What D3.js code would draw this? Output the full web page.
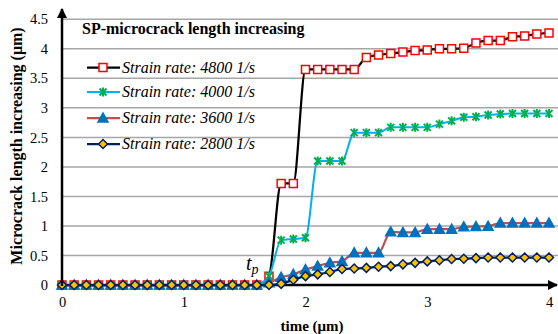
<!DOCTYPE html>
<html>
<head>
<meta charset="utf-8">
<script src="https://cdn.jsdelivr.net/npm/d3@7"></script>
<style>
  html, body { margin: 0; padding: 0; background: #fff; }
  svg { display: block; }
</style>
</head>
<body>
<svg id="chart" width="558" height="334"></svg>
<script>
// ---- Data ----
const timeValues = d3.range(0, 41).map(i => +(i * 0.1).toFixed(1)); // 0.0 .. 4.0
const zeros17 = new Array(17).fill(0);
const rate4800 = zeros17.concat([0.15, 1.72, 1.72, 3.65, 3.65, 3.65, 3.65, 3.65, 3.855, 3.895, 3.92, 3.945, 3.97, 3.98, 4.0, 4.0, 4.01, 4.10, 4.14, 4.14, 4.205, 4.217, 4.25, 4.27]);
const rate4000 = zeros17.concat([0.15, 0.76, 0.78, 0.80, 2.10, 2.10, 2.10, 2.58, 2.58, 2.58, 2.67, 2.67, 2.67, 2.67, 2.725, 2.78, 2.84, 2.85, 2.88, 2.895, 2.905, 2.905, 2.905, 2.905]);
const rate3600 = zeros17.concat([0.04, 0.13, 0.18, 0.26, 0.32, 0.375, 0.40, 0.545, 0.545, 0.545, 0.90, 0.89, 0.89, 0.945, 0.945, 0.945, 0.985, 0.99, 0.995, 1.05, 1.05, 1.05, 1.05, 1.05]);
const rate2800 = zeros17.concat([0.0, 0.02, 0.09, 0.15, 0.18, 0.22, 0.27, 0.28, 0.29, 0.31, 0.32, 0.35, 0.375, 0.40, 0.42, 0.44, 0.445, 0.455, 0.465, 0.465, 0.465, 0.465, 0.465, 0.465]);
const seriesNames = ["Strain rate: 4800 1/s", "Strain rate: 4000 1/s", "Strain rate: 3600 1/s", "Strain rate: 2800 1/s"];
const yTicks = [0, 0.5, 1, 1.5, 2, 2.5, 3, 3.5, 4, 4.5];
const xTicks = [0, 1, 2, 3, 4];
const chartTitle = "SP-microcrack length increasing";
const xTitle = "time (\u03bcm)";
const yTitle = "Microcrack length increasing (\u03bcm)";
const tpX = 1.7;

// ---- Styles ----
const styles = [
  { line: "#000000", marker: "square", fill: "#ffffff", stroke: "#ff0000", width: 2.25 },
  { line: "#00b0f0", marker: "star", fill: "none", stroke: "#00b050", width: 2 },
  { line: "#c0504d", marker: "triangle", fill: "#0070c0", stroke: "#0070c0", width: 2.25 },
  { line: "#002060", marker: "diamond", fill: "#ffc000", stroke: "#002060", width: 2.25 }
];
const allSeries = [rate4800, rate4000, rate3600, rate2800];

const svg = d3.select("#chart");
const x = d3.scaleLinear().domain([0, 4]).range([62, 549]);
const y = d3.scaleLinear().domain([0, 4.5]).range([285, 19.3]);
const serif = "'Liberation Serif', 'Times New Roman', serif";

// gridlines
svg.append("g").selectAll("line").data(yTicks.filter(d => d > 0)).join("line")
  .attr("x1", x(0)).attr("x2", 558)
  .attr("y1", d => y(d)).attr("y2", d => y(d))
  .attr("stroke", "#a6a6a6").attr("stroke-width", 1.5);

// axes with tick labels only
const yAxis = svg.append("g").attr("transform", `translate(${x(0)},0)`)
  .call(d3.axisLeft(y).tickValues(yTicks).tickSize(0).tickPadding(14).tickFormat(d3.format("")));
yAxis.select(".domain").remove();
yAxis.attr("font-family", serif).attr("font-size", 14.5);
yAxis.selectAll("text").attr("fill", "#000");

const xAxis = svg.append("g").attr("transform", `translate(0,${y(0)})`)
  .call(d3.axisBottom(x).tickValues(xTicks).tickSize(0).tickPadding(12).tickFormat(d3.format("d")));
xAxis.select(".domain").remove();
xAxis.attr("font-family", serif).attr("font-size", 14.5);
xAxis.selectAll("text").attr("fill", "#000");

// arrow markers
const defs = svg.append("defs");
defs.append("marker").attr("id", "arrow").attr("viewBox", "0 0 10 10")
  .attr("refX", 9).attr("refY", 5).attr("markerWidth", 4).attr("markerHeight", 4)
  .attr("markerUnits", "strokeWidth").attr("orient", "auto")
  .append("path").attr("d", "M0,0 L10,5 L0,10 z").attr("fill", "#000");

// x axis line
svg.append("line").attr("x1", x(0)).attr("x2", 557).attr("y1", y(0)).attr("y2", y(0))
  .attr("stroke", "#000").attr("stroke-width", 2.5).attr("marker-end", "url(#arrow)");

// series
const lineGen = d3.line().x((d, i) => x(timeValues[i])).y(d => y(d)).curve(d3.curveMonotoneX);

function markerPath(type) {
  switch (type) {
    case "square": return "M-4,-4 H4 V4 H-4 Z";
    case "star": return "M-3.5,-3.5 L3.5,3.5 M3.5,-3.5 L-3.5,3.5 M0,-4.5 V4.5";
    case "triangle": return "M0,-5 L5,4 L-5,4 Z";
    case "diamond": return "M0,-4.5 L4.5,0 L0,4.5 L-4.5,0 Z";
  }
}

allSeries.forEach((vals, si) => {
  const st = styles[si];
  const g = svg.append("g");
  g.append("path").datum(vals).attr("d", lineGen)
    .attr("fill", "none").attr("stroke", st.line).attr("stroke-width", st.width)
    .attr("stroke-linejoin", "round");
  g.selectAll("path.m").data(vals).join("path").attr("class", "m")
    .attr("transform", (d, i) => `translate(${x(timeValues[i])},${y(d)})`)
    .attr("d", markerPath(st.marker))
    .attr("fill", st.fill).attr("stroke", st.stroke)
    .attr("stroke-width", st.marker === "star" ? 2 : 1.5);
});

// y axis line (on top)
svg.append("line").attr("x1", x(0)).attr("x2", x(0)).attr("y1", y(0) + 1).attr("y2", 9)
  .attr("stroke", "#000").attr("stroke-width", 2.5).attr("marker-end", "url(#arrow)");

// title
svg.append("text").attr("x", 82).attr("y", 34).text(chartTitle)
  .attr("font-family", serif).attr("font-size", 16).attr("font-weight", "bold");

// legend
const legendY = [67.5, 92, 118, 144];
seriesNames.forEach((name, si) => {
  const st = styles[si];
  const ly = legendY[si];
  svg.append("line").attr("x1", 87).attr("x2", 120).attr("y1", ly).attr("y2", ly)
    .attr("stroke", st.line).attr("stroke-width", st.width);
  svg.append("path").attr("transform", `translate(103,${ly})`).attr("d", markerPath(st.marker))
    .attr("fill", st.fill).attr("stroke", st.stroke).attr("stroke-width", st.marker === "star" ? 2 : 1.5);
  svg.append("text").attr("x", 122).attr("y", ly + 5).text(name)
    .attr("font-family", serif).attr("font-size", 16).attr("font-style", "italic");
});

// t_p annotation
const tp = svg.append("text").attr("x", x(tpX) - 23).attr("y", 270)
  .attr("font-family", serif).attr("font-style", "italic").attr("font-size", 20);
tp.append("tspan").text("t");
tp.append("tspan").attr("dy", 4).attr("font-size", 14).text("p");

// axis titles
svg.append("text").attr("x", 312).attr("y", 331).attr("text-anchor", "middle").text(xTitle)
  .attr("font-family", serif).attr("font-size", 15).attr("font-weight", "bold");
svg.append("text").attr("transform", "translate(22,146) rotate(-90)").attr("text-anchor", "middle")
  .text(yTitle).attr("font-family", serif).attr("font-size", 16).attr("font-weight", "bold");
</script>
</body>
</html>
